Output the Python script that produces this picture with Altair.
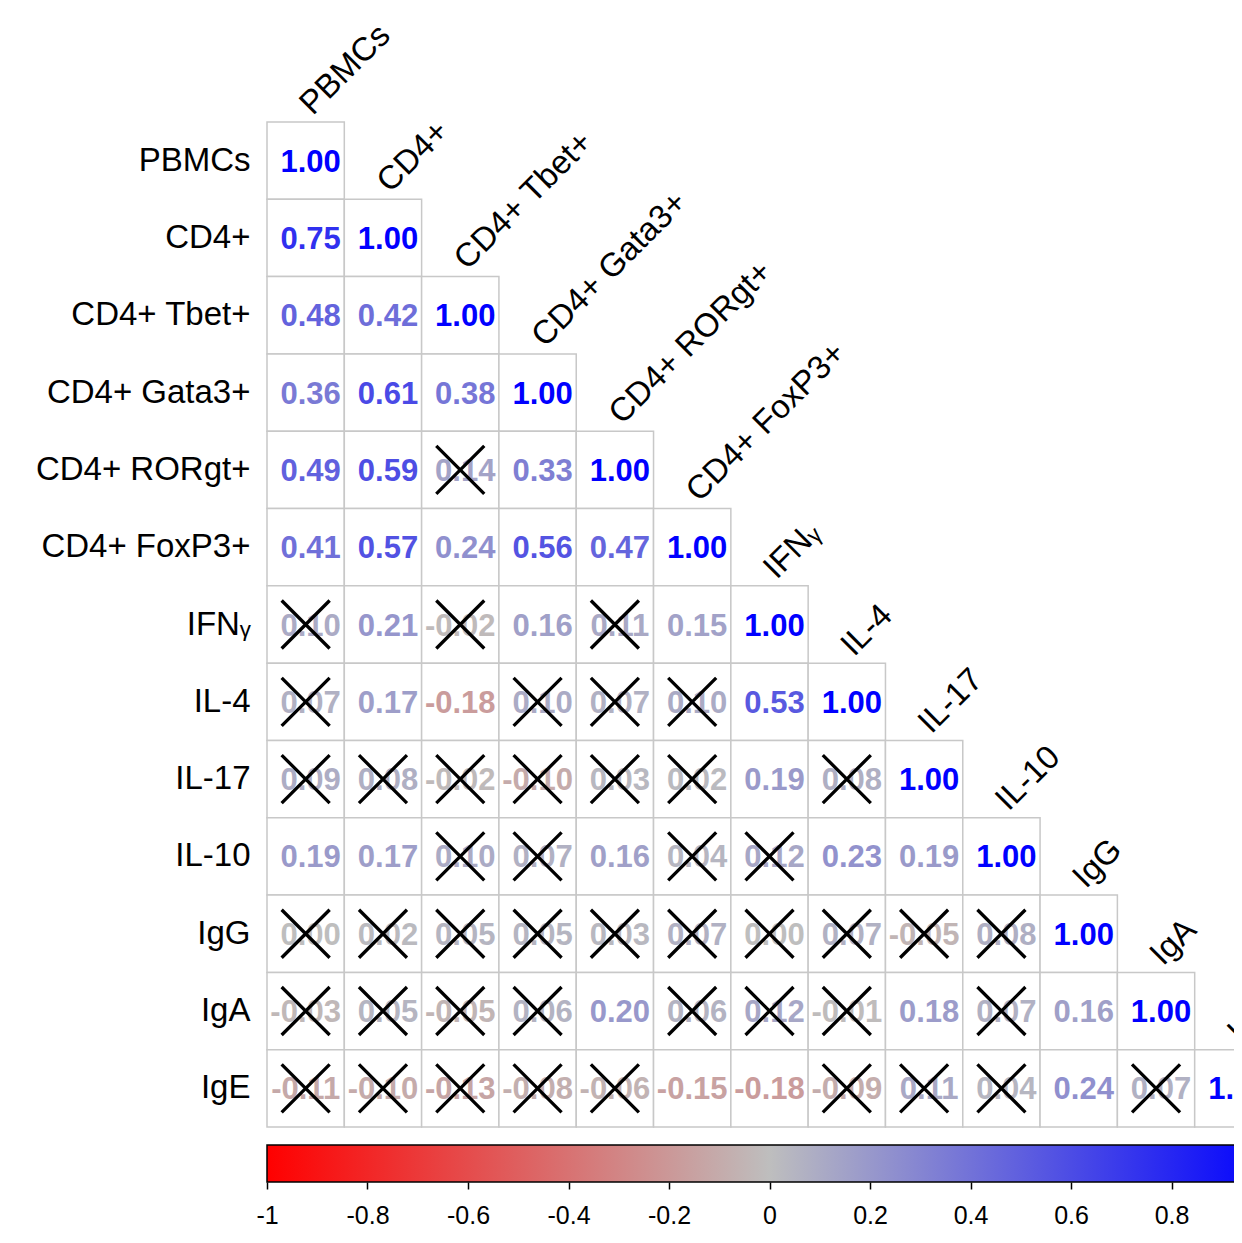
import altair as alt
import pandas as pd

# ---- data -----------------------------------------------------------------
NAMES = ["PBMCs", "CD4+", "CD4+ Tbet+", "CD4+ Gata3+", "CD4+ RORgt+",
         "CD4+ FoxP3+", "IFN\u1d67", "IL-4", "IL-17", "IL-10", "IgG", "IgA", "IgE"]

R_VALUES = [
    [1.00],
    [0.75, 1.00],
    [0.48, 0.42, 1.00],
    [0.36, 0.61, 0.38, 1.00],
    [0.49, 0.59, 0.14, 0.33, 1.00],
    [0.41, 0.57, 0.24, 0.56, 0.47, 1.00],
    [0.10, 0.21, -0.02, 0.16, 0.11, 0.15, 1.00],
    [0.07, 0.17, -0.18, 0.10, 0.07, 0.10, 0.53, 1.00],
    [0.09, 0.08, -0.02, -0.10, 0.03, 0.02, 0.19, 0.08, 1.00],
    [0.19, 0.17, 0.10, 0.07, 0.16, 0.04, 0.12, 0.23, 0.19, 1.00],
    [0.00, 0.02, 0.05, 0.05, 0.03, 0.07, 0.00, 0.07, -0.05, 0.08, 1.00],
    [-0.03, 0.05, -0.05, 0.06, 0.20, 0.06, 0.12, -0.01, 0.18, 0.07, 0.16, 1.00],
    [-0.11, -0.10, -0.13, -0.08, -0.06, -0.15, -0.18, -0.09, 0.11, 0.04, 0.24, 0.07, 1.00],
]

# 1 = not significant (crossed out)
NOT_SIG = [
    [0],
    [0, 0],
    [0, 0, 0],
    [0, 0, 0, 0],
    [0, 0, 1, 0, 0],
    [0, 0, 0, 0, 0, 0],
    [1, 0, 1, 0, 1, 0, 0],
    [1, 0, 0, 1, 1, 1, 0, 0],
    [1, 1, 1, 1, 1, 1, 0, 1, 0],
    [0, 0, 1, 1, 0, 1, 1, 0, 0, 0],
    [1, 1, 1, 1, 1, 1, 1, 1, 1, 1, 0],
    [1, 1, 1, 1, 0, 1, 1, 1, 0, 1, 0, 0],
    [1, 1, 1, 1, 1, 0, 0, 1, 1, 1, 0, 1, 0],
]

COLORBAR_RANGE = [-1, 1]
COLORBAR_TICKS = [-1, -0.8, -0.6, -0.4, -0.2, 0, 0.2, 0.4, 0.6, 0.8]
PALETTE = ["#FF0000", "#BEBEBE", "#0000FF"]

# ---- build tables ----------------------------------------------------------
recs = []
for i, row in enumerate(R_VALUES):
    for j, v in enumerate(row):
        recs.append({"row": NAMES[i], "col": NAMES[j], "r": v,
                     "ns": NOT_SIG[i][j], "label": f"{v:.2f}"})
cells = pd.DataFrame(recs)
diag = pd.DataFrame({"name": NAMES})
cbar = pd.DataFrame({"lo": [COLORBAR_RANGE[0]], "hi": [COLORBAR_RANGE[1]]})

FONT = "Liberation Sans"
GRID = 1005          # full grid width/height in px (13 cells)
VIEW_W = 967         # visible part (right side is cut by the page)
TOP = 102            # room above the grid for the diagonal labels
BAR_Y0 = TOP + GRID + 18
BAR_Y1 = BAR_Y0 + 37

xs = alt.Scale(domain=NAMES, range=[0, GRID], paddingInner=0, paddingOuter=0)
ys = alt.Scale(domain=NAMES, range=[TOP, TOP + GRID], paddingInner=0, paddingOuter=0)

X = alt.X("col:N", scale=xs, axis=None, sort=NAMES)
Y = alt.Y("row:N", scale=ys, sort=NAMES,
          axis=alt.Axis(title=None, ticks=False, domain=False, grid=False,
                        labelFontSize=33, labelFont=FONT, labelColor="black",
                        labelPadding=17, labelLimit=400))

base = alt.Chart(cells)

rects = base.mark_rect(fill="white", stroke="#C8C8C8", strokeWidth=1.5).encode(x=X, y=Y)

COLOR = alt.Color("r:Q", legend=None,
                  scale=alt.Scale(domain=[-1, 0, 1], range=PALETTE, interpolate="rgb"))

# positive numbers are shifted right by half a space (formatted with a leading blank)
texts_pos = base.transform_filter("datum.r >= 0").mark_text(
    font=FONT, fontWeight="bold", fontSize=31, align="center",
    baseline="middle", dy=2, dx=5).encode(x=X, y=Y, text="label:N", color=COLOR)
texts_neg = base.transform_filter("datum.r < 0").mark_text(
    font=FONT, fontWeight="bold", fontSize=31, align="center",
    baseline="middle", dy=2).encode(x=X, y=Y, text="label:N", color=COLOR)

crosses = base.transform_filter("datum.ns == 1").mark_point(
    shape="M-1,-1L1,1M1,-1L-1,1", size=2304, filled=False, color="black",
    strokeWidth=3.3, opacity=1).encode(x=X, y=Y)

collabels = alt.Chart(diag).mark_text(
    font=FONT, fontSize=33, angle=315, align="left", baseline="alphabetic",
    dx=9, dy=1, color="black").encode(
    x=alt.X("name:N", scale=xs, axis=None, sort=NAMES),
    y=alt.Y("name:N", scale=ys, sort=NAMES, bandPosition=0),
    text="name:N")

heat = alt.layer(rects, texts_pos, texts_neg, crosses, collabels)

bar = alt.Chart(cbar).mark_rect(
    fill=alt.Gradient(gradient="linear",
                      stops=[alt.GradientStop(color=PALETTE[0], offset=0),
                             alt.GradientStop(color=PALETTE[1], offset=0.5),
                             alt.GradientStop(color=PALETTE[2], offset=1)],
                      x1=0, x2=1, y1=0, y2=0),
    stroke="black", strokeWidth=1.5).encode(
    x=alt.X("lo:Q", scale=alt.Scale(domain=COLORBAR_RANGE, range=[0, GRID], nice=False),
            axis=alt.Axis(title=None, values=COLORBAR_TICKS, domain=False,
                          grid=False, ticks=True, tickSize=7, tickColor="black",
                          tickWidth=1.5, labelFontSize=25, labelFont=FONT,
                          labelColor="black", labelPadding=14,
                          labelExpr="'' + datum.value", labelFlush=False,
                          labelOverlap=False)),
    x2="hi:Q",
    y=alt.value(BAR_Y0),
    y2=alt.value(BAR_Y1),
)

chart = alt.layer(heat, bar).resolve_scale(
    x="independent", y="independent"
).resolve_axis(x="independent", y="independent").properties(
    width=VIEW_W, height=BAR_Y1,
    autosize=alt.AutoSizeParams(type="none"),
    padding={"left": 259, "top": 12, "right": 0, "bottom": 55},
).configure_view(stroke=None)

chart.save("out.html", embed_options={"renderer": "svg", "actions": False})
